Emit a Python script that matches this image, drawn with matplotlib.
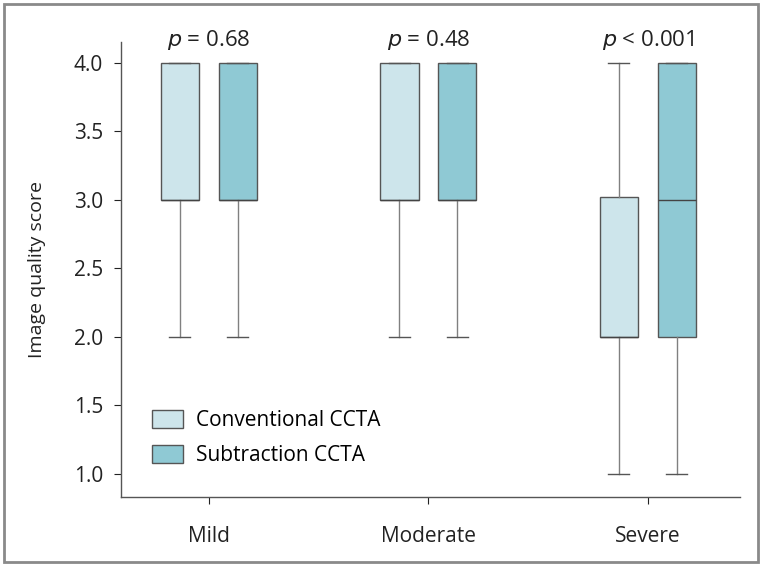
import matplotlib.pyplot as plt
from matplotlib.patches import Patch, Rectangle

plt.rcParams['font.family'] = ['Open Sans', 'DejaVu Sans']

groups = ['Mild', 'Moderate', 'Severe']
p_text = ['= 0.68', '= 0.48', '< 0.001']

# (whislo, q1, med, q3, whishi) for each group
conv = [(2, 3, 3, 4, 4), (2, 3, 3, 4, 4), (1, 2, 2, 3.02, 4)]
subt = [(2, 3, 3, 4, 4), (2, 3, 3, 4, 4), (1, 2, 3, 4, 4)]

c_conv = '#cde5eb'
c_subt = '#8fc9d4'

fig = plt.figure(figsize=(7.62, 5.66), dpi=100)
ax = fig.add_axes([121/762, 69/566, 619/762, 455/566])


def stats(vals):
    out = []
    for lo, q1, med, q3, hi in vals:
        out.append({'whislo': lo, 'q1': q1, 'med': med, 'q3': q3, 'whishi': hi, 'fliers': []})
    return out


off = 0.132
w = 0.175
for vals, sign, col in [(conv, -1, c_conv), (subt, 1, c_subt)]:
    pos = [i + sign * off for i in range(len(groups))]
    ax.bxp(stats(vals), positions=pos, widths=w, patch_artist=True, showfliers=False,
           boxprops=dict(facecolor=col, edgecolor='#555555', linewidth=1),
           medianprops=dict(color='#444444', linewidth=1),
           whiskerprops=dict(color='#808080', linewidth=1),
           capprops=dict(color='#555555', linewidth=1),
           capwidths=w * 0.55)

for i, t in enumerate(p_text):
    ax.text(i, 4.17, r'$\it{p}$ ' + t, ha='center', va='center', fontsize=16, color='#222222')

ax.set_xlim(-0.40, 2.42)
ax.set_ylim(0.832, 4.153)
ax.set_xticks(range(len(groups)))
ax.set_xticklabels(groups)
ax.set_yticks([1.0, 1.5, 2.0, 2.5, 3.0, 3.5, 4.0])
ax.set_yticklabels(['1.0', '1.5', '2.0', '2.5', '3.0', '3.5', '4.0'])
ax.set_ylabel('Image quality score', fontsize=14, color='#222222', labelpad=20)
ax.tick_params(labelsize=15, colors='#222222', length=5, width=0.8, pad=8)
ax.tick_params(axis='x', pad=16)
for s in ['top', 'right']:
    ax.spines[s].set_visible(False)
for s in ['left', 'bottom']:
    ax.spines[s].set_color('#555555')
    ax.spines[s].set_linewidth(1)

handles = [Patch(facecolor=c_conv, edgecolor='#555555', label='Conventional CCTA'),
           Patch(facecolor=c_subt, edgecolor='#555555', label='Subtraction CCTA')]
ax.legend(handles=handles, loc='lower left', bbox_to_anchor=(0.02, 0.027), frameon=False,
          fontsize=15, handlelength=1.5, handleheight=1.0, labelspacing=0.65, handletextpad=0.6)

fig.patches.append(Rectangle((4/762, 4/566), 754/762, 558/566, transform=fig.transFigure,
                             fill=False, edgecolor='#8a8a8a', linewidth=2))

fig.savefig('out.png', dpi=100)
